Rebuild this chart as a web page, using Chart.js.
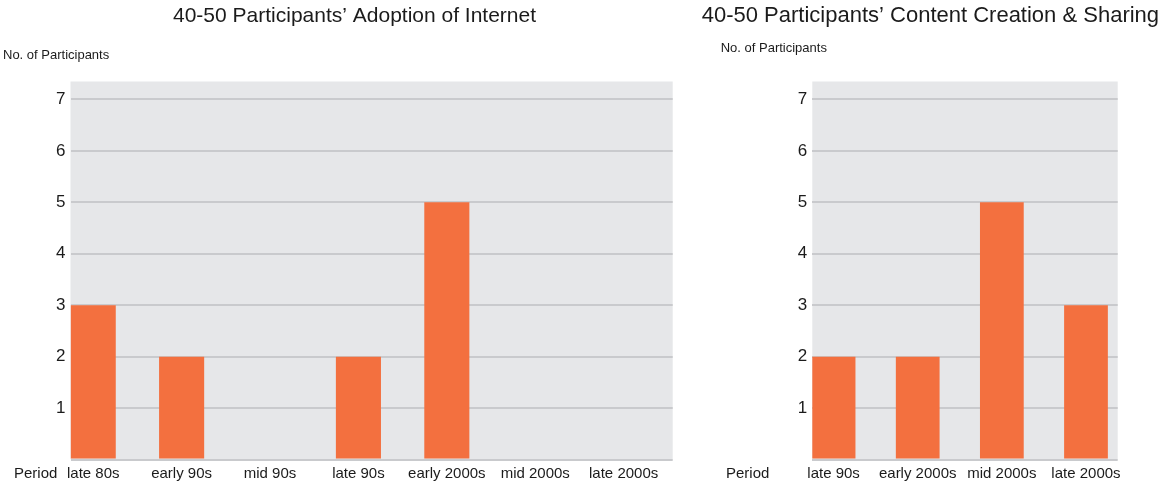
<!DOCTYPE html>
<html>
<head>
<meta charset="utf-8">
<script src="https://cdn.jsdelivr.net/npm/chart.js@4.4.1/dist/chart.umd.min.js"></script>
<style>
  html, body { margin: 0; padding: 0; background: #fff; }
  body { width: 1166px; height: 483px; position: relative; overflow: hidden; }
  .panel { position: absolute; top: 0; }
  #adoptionPanel { left: 0; }
  #creationPanel { left: 690px; }
</style>
</head>
<body>
<div class="panel" id="adoptionPanel"><canvas id="adoption" width="700" height="483"></canvas></div>
<div class="panel" id="creationPanel"><canvas id="creation" width="476" height="483"></canvas></div>
<script>
// ---- data ----
const adoptionTitle = "40-50 Participants’ Adoption of Internet";
const creationTitle = "40-50 Participants’ Content Creation & Sharing";
const yAxisLabel = "No. of Participants";
const xAxisLabel = "Period";

const adoptionPeriods = ["late 80s", "early 90s", "mid 90s", "late 90s", "early 2000s", "mid 2000s", "late 2000s"];
const adoptionCounts = [3, 2, 0, 2, 5, 0, 0];

const creationPeriods = ["late 90s", "early 2000s", "mid 2000s", "late 2000s"];
const creationCounts = [2, 2, 5, 3];

const countTicks = [1, 2, 3, 4, 5, 6, 7];

// ---- styling ----
const FONT = "'Liberation Sans', Arial, Helvetica, sans-serif";
const TEXT = '#1b1b1b';
const BAR = '#F3703F';
const PLOT_BG = '#E6E7E9';
const GRID = '#C9CACD';

// Plot background plus the free-standing labels (title, axis captions)
const panelText = {
  id: 'panelText',
  beforeDraw(chart, args, o) {
    const { ctx, chartArea: a } = chart;
    ctx.save();
    ctx.fillStyle = PLOT_BG;
    ctx.fillRect(a.left, a.top, a.right - a.left, a.bottom - a.top);
    ctx.restore();
  },
  afterDraw(chart, args, o) {
    const { ctx, chartArea: a } = chart;
    ctx.save();
    ctx.fillStyle = TEXT;
    ctx.textAlign = 'left';
    ctx.textBaseline = 'alphabetic';
    ctx.font = `${o.titleSize}px ${FONT}`;
    ctx.fillText(o.title, o.titleX, o.titleY);
    ctx.textBaseline = 'middle';
    ctx.font = `13px ${FONT}`;
    ctx.fillText(o.yLabel, o.yLabelX, o.yLabelY);
    ctx.font = `15px ${FONT}`;
    ctx.fillText(o.xLabel, o.xLabelX, a.bottom + o.xLabelDy);
    ctx.restore();
  }
};

function buildChart(id, periods, counts, cfg) {
  return new Chart(document.getElementById(id), {
    type: 'bar',
    data: {
      datasets: [{
        data: counts.map((c, i) => ({ x: i, y: c })),
        backgroundColor: BAR,
        borderWidth: 0,
        barPercentage: cfg.barPct,
        categoryPercentage: 1
      }]
    },
    plugins: [panelText],
    options: {
      responsive: false,
      animation: false,
      layout: { padding: { left: 0, right: cfg.padRight, top: 81.5, bottom: 0 } },
      plugins: {
        legend: { display: false },
        tooltip: { enabled: false },
        panelText: {
          title: cfg.title, titleX: cfg.titleX, titleY: 22, titleSize: cfg.titleSize,
          yLabel: yAxisLabel, yLabelX: cfg.yLabelX, yLabelY: cfg.yLabelY,
          xLabel: xAxisLabel, xLabelX: cfg.xLabelX, xLabelDy: 14
        }
      },
      scales: {
        x: {
          type: 'linear',
          offset: false,
          min: cfg.xMin,
          max: cfg.xMax,
          grid: { display: false, drawTicks: false },
          border: { display: false },
          ticks: {
            stepSize: 1,
            includeBounds: false,
            autoSkip: false,
            maxRotation: 0,
            padding: 5,
            color: TEXT,
            font: { family: FONT, size: 15 },
            callback: (v) => Number.isInteger(v) && periods[v] !== undefined ? periods[v] : ''
          },
          afterFit: (s) => { s.height = 23.5; }
        },
        y: {
          min: 0,
          max: 7.35,
          grid: { color: GRID, lineWidth: 2, drawTicks: false },
          border: { display: false },
          ticks: {
            stepSize: 1,
            includeBounds: false,
            padding: 5,
            color: TEXT,
            font: { family: FONT, size: 17 },
            callback: (v) => countTicks.includes(v) ? String(v) : ''
          },
          afterFit: (s) => { s.width = cfg.yWidth; }
        }
      }
    }
  });
}

buildChart('adoption', adoptionPeriods, adoptionCounts, {
  title: adoptionTitle, titleX: 173, titleSize: 21,
  yLabelX: 3, yLabelY: 55, xLabelX: 14,
  padRight: 27.3, yWidth: 70.5,
  xMin: -0.257, xMax: 6.555, barPct: 0.51
});

buildChart('creation', creationPeriods, creationCounts, {
  title: creationTitle, titleX: 11.7, titleSize: 22,
  yLabelX: 30.7, yLabelY: 48, xLabelX: 36,
  padRight: 48.3, yWidth: 122.3,
  xMin: -0.253, xMax: 3.377, barPct: 0.52
});
</script>
</body>
</html>
